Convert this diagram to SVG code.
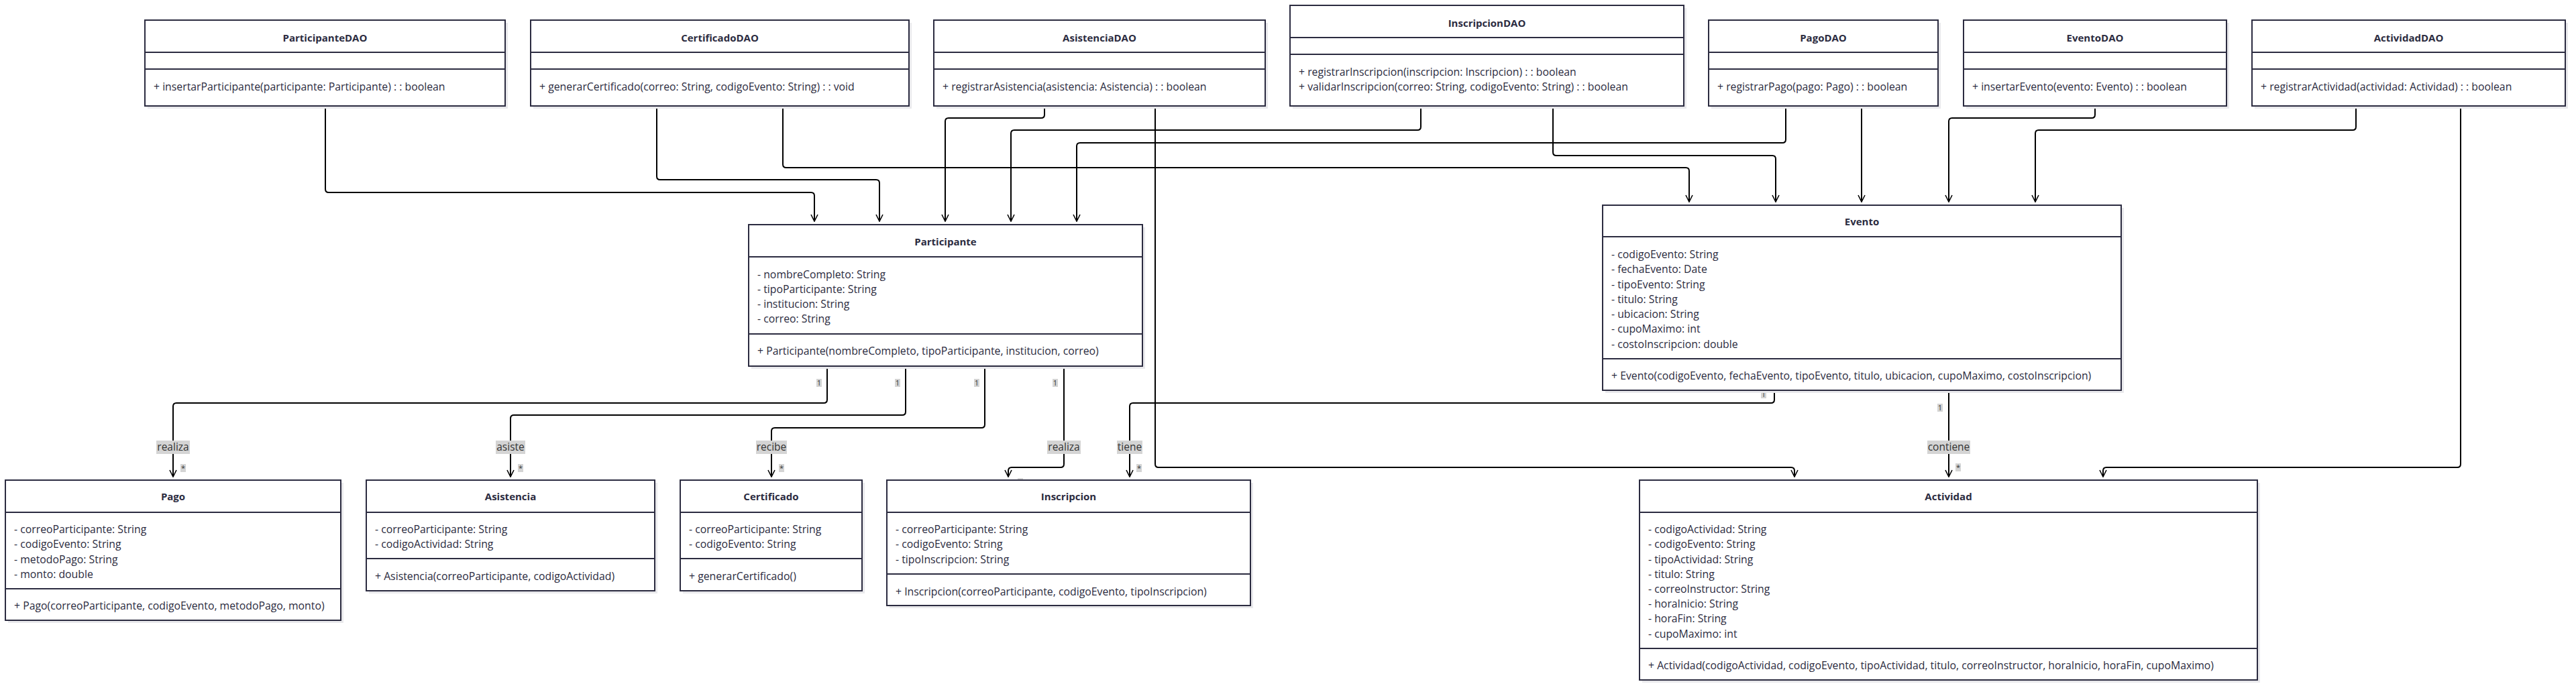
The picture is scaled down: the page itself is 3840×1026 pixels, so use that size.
<svg xmlns="http://www.w3.org/2000/svg" width="3840" height="1026" viewBox="0 0 3840 1026">
<defs>
<style>
.bx{fill:#ffffff;stroke:#2b2b40;stroke-width:2}
.sh{fill:#e9e9ec}
.dv{stroke:#2b2b40;stroke-width:2.2}
.tt{font-family:"Open Sans","Liberation Sans",sans-serif;font-size:15px;font-weight:700;fill:#2b2b40;text-anchor:middle}
.tx{font-family:"Open Sans","Liberation Sans",sans-serif;font-size:15.8px;fill:#2b2b40}
.cn{fill:none;stroke:#000000;stroke-width:2;marker-end:url(#arr)}
.lb{fill:#d4d4d4}
.lt{font-family:"Open Sans","Liberation Sans",sans-serif;font-size:15.5px;fill:#333333;text-anchor:middle}
.mt{font-family:"Open Sans","Liberation Sans",sans-serif;font-size:11px;fill:#333333;text-anchor:middle}
</style>
<marker id="arr" viewBox="0 0 12 12" refX="11" refY="6" markerWidth="12" markerHeight="12" markerUnits="userSpaceOnUse" orient="auto">
<path d="M1,1 L11,6 L1,11" fill="none" stroke="#000000" stroke-width="1.6"/>
</marker>
</defs>
<rect x="0" y="0" width="3840" height="1026" fill="#ffffff"/>

<g id="connectors">
<path class="cn" d="M485,158 L485,282 Q485,287 490,287 L1209,287 Q1214,287 1214,292 L1214,330"/>
<path class="cn" d="M979,158 L979,263 Q979,268 984,268 L1306,268 Q1311,268 1311,273 L1311,330"/>
<path class="cn" d="M1167,158 L1167,245 Q1167,250 1172,250 L2513,250 Q2518,250 2518,255 L2518,301"/>
<path class="cn" d="M1557,158 L1557,171 Q1557,176 1552,176 L1414,176 Q1409,176 1409,181 L1409,330"/>
<path class="cn" d="M1722,158 L1722,692 Q1722,697 1727,697 L2670,697 Q2675,697 2675,702 L2675,711"/>
<path class="cn" d="M2118,158 L2118,189 Q2118,194 2113,194 L1512,194 Q1507,194 1507,199 L1507,330"/>
<path class="cn" d="M2315,158 L2315,227 Q2315,232 2320,232 L2642,232 Q2647,232 2647,237 L2647,301"/>
<path class="cn" d="M2662,158 L2662,208 Q2662,213 2657,213 L1610,213 Q1605,213 1605,218 L1605,330"/>
<path class="cn" d="M2775,158 L2775,301"/>
<path class="cn" d="M3123,158 L3123,171 Q3123,176 3118,176 L2910,176 Q2905,176 2905,181 L2905,301"/>
<path class="cn" d="M3512,158 L3512,189 Q3512,194 3507,194 L3039,194 Q3034,194 3034,199 L3034,301"/>
<path class="cn" d="M3668,158 L3668,692 Q3668,697 3663,697 L3140,697 Q3135,697 3135,702 L3135,711"/>
<path class="cn" d="M1233,546 L1233,596 Q1233,601 1228,601 L263,601 Q258,601 258,606 L258,711"/>
<path class="cn" d="M1350,546 L1350,614 Q1350,619 1345,619 L766,619 Q761,619 761,624 L761,711"/>
<path class="cn" d="M1468,546 L1468,633 Q1468,638 1463,638 L1155,638 Q1150,638 1150,643 L1150,711"/>
<path class="cn" d="M1586,546 L1586,692 Q1586,697 1581,697 L1508,697 Q1503,697 1503,702 L1503,711"/>
<path class="cn" d="M2645,582 L2645,596 Q2645,601 2640,601 L1689,601 Q1684,601 1684,606 L1684,711"/>
<path class="cn" d="M2905,582 L2905,711"/>
<rect class="lb" x="233" y="657" width="50" height="20"/><text class="lt" x="258" y="672">realiza</text>
<rect class="lb" x="739" y="657" width="44" height="20"/><text class="lt" x="761" y="672">asiste</text>
<rect class="lb" x="1127" y="657" width="46" height="20"/><text class="lt" x="1150" y="672">recibe</text>
<rect class="lb" x="1561" y="657" width="50" height="20"/><text class="lt" x="1586" y="672">realiza</text>
<rect class="lb" x="1665" y="657" width="38" height="20"/><text class="lt" x="1684" y="672">tiene</text>
<rect class="lb" x="2873" y="657" width="64" height="20"/><text class="lt" x="2905" y="672">contiene</text>
<rect class="lb" x="1217" y="565" width="8" height="12"/><text class="mt" x="1221" y="575">1</text>
<rect class="lb" x="1334" y="565" width="8" height="12"/><text class="mt" x="1338" y="575">1</text>
<rect class="lb" x="1452" y="565" width="8" height="12"/><text class="mt" x="1456" y="575">1</text>
<rect class="lb" x="1569" y="565" width="8" height="12"/><text class="mt" x="1573" y="575">1</text>
<rect class="lb" x="2625" y="582" width="8" height="12"/><text class="mt" x="2629" y="592">1</text>
<rect class="lb" x="2888" y="602" width="8" height="12"/><text class="mt" x="2892" y="612">1</text>
<rect class="lb" x="269" y="692" width="8" height="12"/><text class="mt" x="273" y="702">*</text>
<rect class="lb" x="772" y="692" width="8" height="12"/><text class="mt" x="776" y="702">*</text>
<rect class="lb" x="1161" y="692" width="8" height="12"/><text class="mt" x="1165" y="702">*</text>
<rect class="lb" x="1517" y="713" width="8" height="12"/><text class="mt" x="1521" y="723">*</text>
<rect class="lb" x="1694" y="692" width="8" height="12"/><text class="mt" x="1698" y="702">*</text>
<rect class="lb" x="2915" y="691" width="8" height="12"/><text class="mt" x="2919" y="701">*</text>
</g>

<g id="ParticipanteDAO">
<rect class="sh" x="220" y="34" width="537" height="128"/>
<rect class="bx" x="216" y="30" width="537" height="128"/>
<line class="dv" x1="216" y1="78" x2="753" y2="78"/><line class="dv" x1="216" y1="103" x2="753" y2="103"/>
<text class="tt" x="484.5" y="62">ParticipanteDAO</text>
<text class="tx" x="229" y="134.5">+ insertarParticipante(participante: Participante) : : boolean</text>
</g>
<g id="CertificadoDAO">
<rect class="sh" x="795" y="34" width="564" height="128"/>
<rect class="bx" x="791" y="30" width="564" height="128"/>
<line class="dv" x1="791" y1="78" x2="1355" y2="78"/><line class="dv" x1="791" y1="103" x2="1355" y2="103"/>
<text class="tt" x="1073" y="62">CertificadoDAO</text>
<text class="tx" x="804" y="134.5">+ generarCertificado(correo: String, codigoEvento: String) : : void</text>
</g>
<g id="AsistenciaDAO">
<rect class="sh" x="1396" y="34" width="494" height="128"/>
<rect class="bx" x="1392" y="30" width="494" height="128"/>
<line class="dv" x1="1392" y1="78" x2="1886" y2="78"/><line class="dv" x1="1392" y1="103" x2="1886" y2="103"/>
<text class="tt" x="1639" y="62">AsistenciaDAO</text>
<text class="tx" x="1405" y="134.5">+ registrarAsistencia(asistencia: Asistencia) : : boolean</text>
</g>
<g id="InscripcionDAO">
<rect class="sh" x="1927" y="12" width="587" height="150"/>
<rect class="bx" x="1923" y="8" width="587" height="150"/>
<line class="dv" x1="1923" y1="56" x2="2510" y2="56"/><line class="dv" x1="1923" y1="81" x2="2510" y2="81"/>
<text class="tt" x="2216.5" y="40">InscripcionDAO</text>
<text class="tx" x="1936" y="112.5">+ registrarInscripcion(inscripcion: Inscripcion) : : boolean</text>
<text class="tx" x="1936" y="134.5">+ validarInscripcion(correo: String, codigoEvento: String) : : boolean</text>
</g>
<g id="PagoDAO">
<rect class="sh" x="2551" y="34" width="342" height="128"/>
<rect class="bx" x="2547" y="30" width="342" height="128"/>
<line class="dv" x1="2547" y1="78" x2="2889" y2="78"/><line class="dv" x1="2547" y1="103" x2="2889" y2="103"/>
<text class="tt" x="2718" y="62">PagoDAO</text>
<text class="tx" x="2560" y="134.5">+ registrarPago(pago: Pago) : : boolean</text>
</g>
<g id="EventoDAO">
<rect class="sh" x="2931" y="34" width="392" height="128"/>
<rect class="bx" x="2927" y="30" width="392" height="128"/>
<line class="dv" x1="2927" y1="78" x2="3319" y2="78"/><line class="dv" x1="2927" y1="103" x2="3319" y2="103"/>
<text class="tt" x="3123" y="62">EventoDAO</text>
<text class="tx" x="2940" y="134.5">+ insertarEvento(evento: Evento) : : boolean</text>
</g>
<g id="ActividadDAO">
<rect class="sh" x="3361" y="34" width="467" height="128"/>
<rect class="bx" x="3357" y="30" width="467" height="128"/>
<line class="dv" x1="3357" y1="78" x2="3824" y2="78"/><line class="dv" x1="3357" y1="103" x2="3824" y2="103"/>
<text class="tt" x="3590.5" y="62">ActividadDAO</text>
<text class="tx" x="3370" y="134.5">+ registrarActividad(actividad: Actividad) : : boolean</text>
</g>

<g id="Participante">
<rect class="sh" x="1120" y="339" width="587" height="211"/>
<rect class="bx" x="1116" y="335" width="587" height="211"/>
<line class="dv" x1="1116" y1="383" x2="1703" y2="383"/><line class="dv" x1="1116" y1="498" x2="1703" y2="498"/>
<text class="tt" x="1409.5" y="366">Participante</text>
<text class="tx" x="1129" y="414.5">- nombreCompleto: String</text>
<text class="tx" x="1129" y="436.5">- tipoParticipante: String</text>
<text class="tx" x="1129" y="458.5">- institucion: String</text>
<text class="tx" x="1129" y="480.5">- correo: String</text>
<text class="tx" x="1129" y="528.5">+ Participante(nombreCompleto, tipoParticipante, institucion, correo)</text>
</g>
<g id="Evento">
<rect class="sh" x="2393" y="310" width="773" height="276"/>
<rect class="bx" x="2389" y="306" width="773" height="276"/>
<line class="dv" x1="2389" y1="353" x2="3162" y2="353"/><line class="dv" x1="2389" y1="535" x2="3162" y2="535"/>
<text class="tt" x="2775.5" y="336">Evento</text>
<text class="tx" x="2402" y="384.5">- codigoEvento: String</text>
<text class="tx" x="2402" y="406.5">- fechaEvento: Date</text>
<text class="tx" x="2402" y="429.5">- tipoEvento: String</text>
<text class="tx" x="2402" y="451.5">- titulo: String</text>
<text class="tx" x="2402" y="473.5">- ubicacion: String</text>
<text class="tx" x="2402" y="495.5">- cupoMaximo: int</text>
<text class="tx" x="2402" y="518.5">- costoInscripcion: double</text>
<text class="tx" x="2402" y="565.5">+ Evento(codigoEvento, fechaEvento, tipoEvento, titulo, ubicacion, cupoMaximo, costoInscripcion)</text>
</g>
<g id="Pago">
<rect class="sh" x="12" y="720" width="500" height="209"/>
<rect class="bx" x="8" y="716" width="500" height="209"/>
<line class="dv" x1="8" y1="764" x2="508" y2="764"/><line class="dv" x1="8" y1="878" x2="508" y2="878"/>
<text class="tt" x="258" y="746">Pago</text>
<text class="tx" x="21" y="794.5">- correoParticipante: String</text>
<text class="tx" x="21" y="816.5">- codigoEvento: String</text>
<text class="tx" x="21" y="839.5">- metodoPago: String</text>
<text class="tx" x="21" y="861.5">- monto: double</text>
<text class="tx" x="21" y="908.5">+ Pago(correoParticipante, codigoEvento, metodoPago, monto)</text>
</g>
<g id="Asistencia">
<rect class="sh" x="550" y="720" width="430" height="165"/>
<rect class="bx" x="546" y="716" width="430" height="165"/>
<line class="dv" x1="546" y1="764" x2="976" y2="764"/><line class="dv" x1="546" y1="833" x2="976" y2="833"/>
<text class="tt" x="761" y="746">Asistencia</text>
<text class="tx" x="559" y="794.5">- correoParticipante: String</text>
<text class="tx" x="559" y="816.5">- codigoActividad: String</text>
<text class="tx" x="559" y="864.5">+ Asistencia(correoParticipante, codigoActividad)</text>
</g>
<g id="Certificado">
<rect class="sh" x="1018" y="720" width="271" height="165"/>
<rect class="bx" x="1014" y="716" width="271" height="165"/>
<line class="dv" x1="1014" y1="764" x2="1285" y2="764"/><line class="dv" x1="1014" y1="833" x2="1285" y2="833"/>
<text class="tt" x="1149.5" y="746">Certificado</text>
<text class="tx" x="1027" y="794.5">- correoParticipante: String</text>
<text class="tx" x="1027" y="816.5">- codigoEvento: String</text>
<text class="tx" x="1027" y="864.5">+ generarCertificado()</text>
</g>
<g id="Inscripcion">
<rect class="sh" x="1326" y="720" width="542" height="187"/>
<rect class="bx" x="1322" y="716" width="542" height="187"/>
<line class="dv" x1="1322" y1="764" x2="1864" y2="764"/><line class="dv" x1="1322" y1="856" x2="1864" y2="856"/>
<text class="tt" x="1593" y="746">Inscripcion</text>
<text class="tx" x="1335" y="794.5">- correoParticipante: String</text>
<text class="tx" x="1335" y="816.5">- codigoEvento: String</text>
<text class="tx" x="1335" y="839.5">- tipoInscripcion: String</text>
<text class="tx" x="1335" y="887.5">+ Inscripcion(correoParticipante, codigoEvento, tipoInscripcion)</text>
</g>
<g id="Actividad">
<rect class="sh" x="2448" y="720" width="921" height="298"/>
<rect class="bx" x="2444" y="716" width="921" height="298"/>
<line class="dv" x1="2444" y1="764" x2="3365" y2="764"/><line class="dv" x1="2444" y1="967" x2="3365" y2="967"/>
<text class="tt" x="2904.5" y="746">Actividad</text>
<text class="tx" x="2457" y="794.5">- codigoActividad: String</text>
<text class="tx" x="2457" y="816.5">- codigoEvento: String</text>
<text class="tx" x="2457" y="839.5">- tipoActividad: String</text>
<text class="tx" x="2457" y="861.5">- titulo: String</text>
<text class="tx" x="2457" y="883.5">- correoInstructor: String</text>
<text class="tx" x="2457" y="905.5">- horaInicio: String</text>
<text class="tx" x="2457" y="927.5">- horaFin: String</text>
<text class="tx" x="2457" y="950.5">- cupoMaximo: int</text>
<text class="tx" x="2457" y="997.5">+ Actividad(codigoActividad, codigoEvento, tipoActividad, titulo, correoInstructor, horaInicio, horaFin, cupoMaximo)</text>
</g>
</svg>
